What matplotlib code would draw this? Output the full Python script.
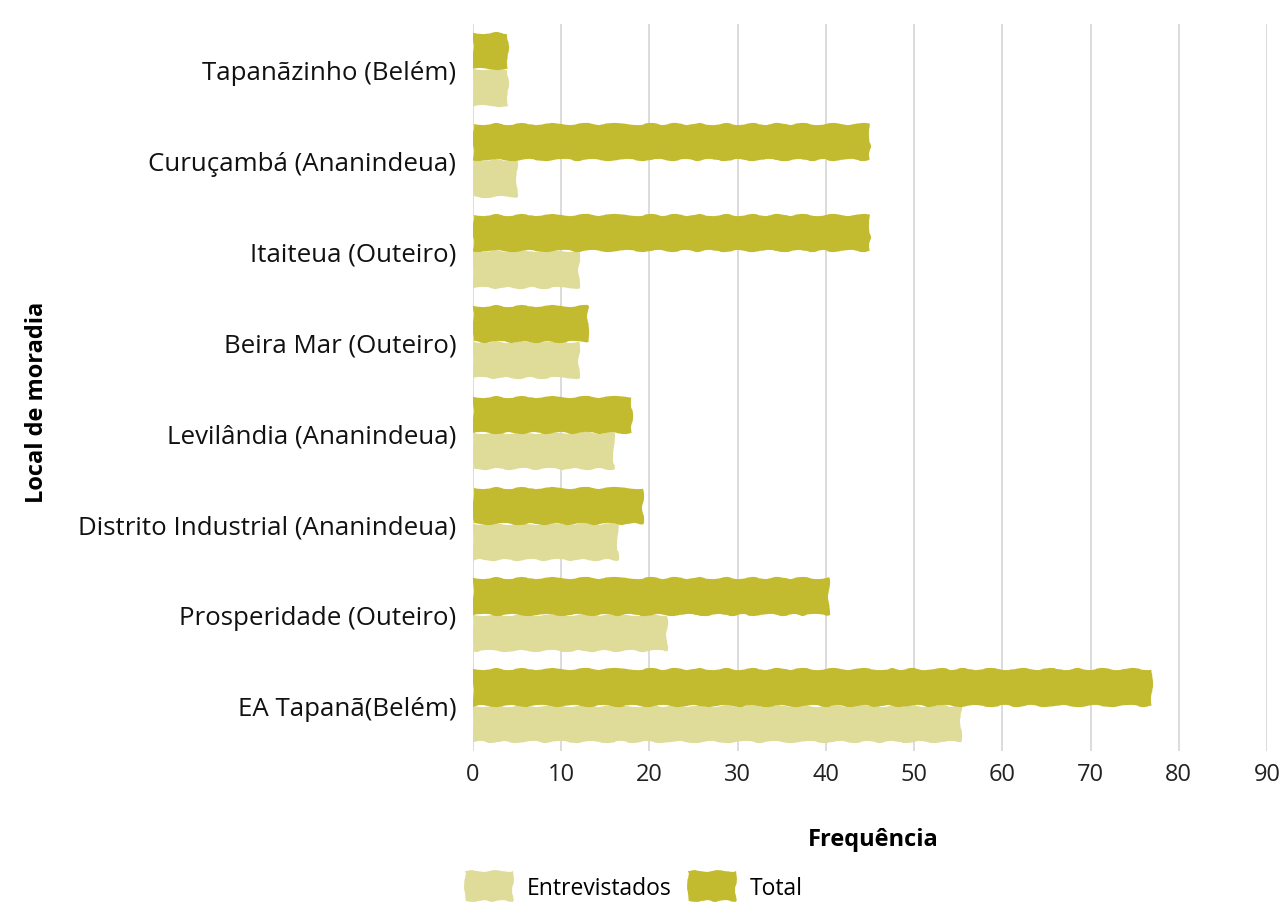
import matplotlib
matplotlib.use("Agg")
import matplotlib.pyplot as plt
import numpy as np
from matplotlib.patches import Patch

plt.rcParams['font.family'] = ['Open Sans', 'DejaVu Sans']

locais = [
    "Tapanãzinho (Belém)",
    "Curuçambá (Ananindeua)",
    "Itaiteua (Outeiro)",
    "Beira Mar (Outeiro)",
    "Levilândia (Ananindeua)",
    "Distrito Industrial (Ananindeua)",
    "Prosperidade (Outeiro)",
    "EA Tapanã(Belém)",
]
total = [4, 45, 45, 13, 18, 19.3, 40.4, 77]
entrevistados = [4, 5, 12, 12, 16, 16.4, 22, 55.3]
xticks = [0, 10, 20, 30, 40, 50, 60, 70, 80, 90]

cor_total = "#C3BB2F"
cor_entrev = "#DFDB98"

fig = plt.figure(figsize=(12.88, 9.04), dpi=100)
ax = fig.add_axes([0.3672, 0.1681, 0.6165, 0.8042])

y = np.arange(len(locais))
h = 0.40
bars_t = ax.barh(y - h / 2, total, height=h, color=cor_total, zorder=3)
bars_e = ax.barh(y + h / 2, entrevistados, height=h, color=cor_entrev, zorder=2)
for b in list(bars_t) + list(bars_e):
    b.set_sketch_params(scale=1.1, length=40, randomness=4)

ax.set_xlim(0, 90)
ax.set_ylim(len(locais) - 0.5, -0.5)
ax.set_xticks(xticks)
ax.set_xticklabels([str(t) for t in xticks], fontsize=17, color="#222222")
ax.set_yticks(y)
ax.set_yticklabels(locais, fontsize=18.6, color="#111111")
ax.tick_params(axis="both", length=0)
ax.tick_params(axis="x", pad=8)
ax.tick_params(axis="y", pad=12)
ax.grid(axis="x", color="#DCDCDC", linewidth=1.4, zorder=0)
ax.set_axisbelow(True)
for s in ax.spines.values():
    s.set_visible(False)

fig.text(873 / 1288, 1 - 840 / 904, "Frequência", ha="center", va="center",
         fontsize=17, fontweight="bold")
fig.text(37 / 1288, 1 - 402 / 904, "Local de moradia", ha="center", va="center",
         rotation=90, fontsize=17, fontweight="bold")

handles = [Patch(facecolor=cor_entrev, label="Entrevistados"),
           Patch(facecolor=cor_total, label="Total")]
for hdl in handles:
    hdl.set_sketch_params(scale=0.9, length=30, randomness=4)
leg = fig.legend(handles=handles, loc="center", bbox_to_anchor=(634 / 1288, 1 - 887 / 904),
                 ncol=2, frameon=False, fontsize=16.5, handlelength=2.1, handleheight=1.6,
                 columnspacing=0.7, handletextpad=0.6, borderpad=0, borderaxespad=0)

fig.savefig("out.png", dpi=100)
